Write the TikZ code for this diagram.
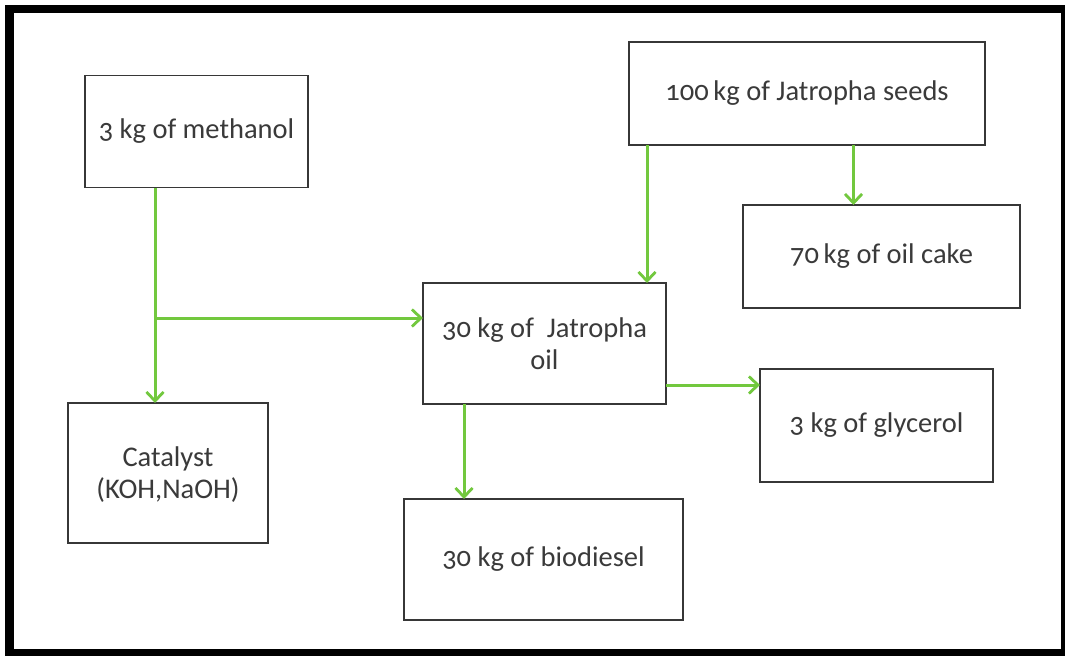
\documentclass[tikz,border=0pt]{standalone}
\usepackage{fontspec}
\setmainfont[Numbers=OldStyle]{Carlito}
\usetikzlibrary{arrows.meta,calc}
\definecolor{flowgreen}{RGB}{114,200,62}
\definecolor{boxgray}{RGB}{55,55,55}
\definecolor{txtgray}{RGB}{58,58,58}

\begin{document}
\begin{tikzpicture}[x=1pt,y=-1pt,
    massbox/.style={draw=boxgray,line width=1.6pt,fill=white,inner sep=0pt,outer sep=0pt,
        align=center,text=txtgray,font=\fontsize{28.5}{32}\selectfont},
    flow/.style={draw=flowgreen,line width=3pt,-{Straight Barb[length=9pt,width=17pt,line width=2.8pt]}}]
            \useasboundingbox (0,0) rectangle (1065,656);
            \fill[black] (5,5) rectangle (1065,656);
            \fill[white] (14,13) rectangle (1061,649);

            \node[massbox,minimum width=223pt,minimum height=112pt] (meth) at (196.5,131.5) {3 kg of methanol};
            \node[massbox,minimum width=356pt,minimum height=103pt] (seeds) at (807,93.5) {100\,kg of Jatropha seeds};
            \node[massbox,minimum width=277pt,minimum height=103pt] (cake) at (881.5,256.5) {70\,kg of oil cake};
            \node[massbox,minimum width=243pt,minimum height=121pt] (oil) at (544.5,343.5) {30 kg of\ \ Jatropha\\oil};
            \node[massbox,minimum width=233pt,minimum height=113pt] (glyc) at (876.5,425.5) {3 kg of glycerol};
            \node[massbox,minimum width=200pt,minimum height=140pt,text depth=0pt] (cat) at (168,473) {Catalyst\\(KOH,NaOH)};
            \node[massbox,minimum width=279pt,minimum height=121pt] (bio) at (543.5,559.5) {30 kg of biodiesel};

            \coordinate (split) at (155,318);
            \coordinate (oilin) at ($(oil.north east)+(-19,0)$);
            \coordinate (cakein) at ($(cake.north)+(-28,0)$);
            \coordinate (oilout) at ($(oil.south east)+(0,-19)$);
            \coordinate (bioout) at ($(oil.south west)+(41,0)$);

            \draw[flow] (split |- meth.south)--(split |- cat.north);
            \draw[flow] (split)--(split -| oil.west);
            \draw[flow] (oilin |- seeds.south)--(oilin);
            \draw[flow] (cakein |- seeds.south)--(cakein);
            \draw[flow] (oilout)--(oilout -| glyc.west);
            \draw[flow] (bioout)--(bioout |- bio.north);
        \end{tikzpicture}
\end{document}
